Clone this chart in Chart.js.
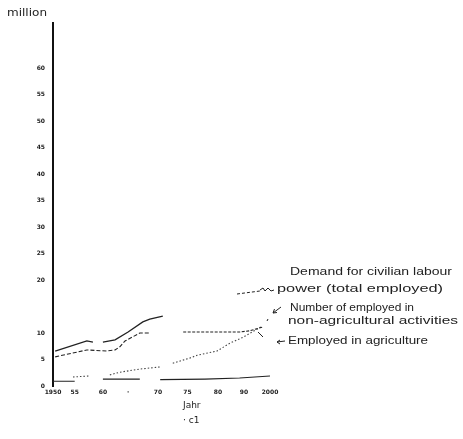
<!DOCTYPE html>
<html>
<head>
<meta charset="utf-8">
<script src="https://cdn.jsdelivr.net/npm/chart.js@4"></script>
<style>
  html, body { margin: 0; padding: 0; background: #fff; }
</style>
</head>
<body>
<canvas id="myChart" width="463" height="439"></canvas>
<script>
// values (million persons by year), null = pen lifted
const totalYears = [1950.5, 1957.8, 1959.2, 1960, 1961.5, 1964.3, 1967.3, 1970.7, 1972.3, 1975.3];
const totalValues = [6.6, 8.5, 8.3, null, 8.3, 8.7, 10.2, 12.1, 12.6, 13.2];

const nonAgriYears = [1950.5, 1957.8, 1962.4, 1964.3, 1965.4, 1966.6, 1968.2, 1970, 1972.3];
const nonAgriValues = [5.5, 6.8, 6.6, 6.8, 7.4, 8.5, 9.2, 10.0, 10.0];

const nonAgriLateYears = [1980, 1993.1, 1995.2, 1998.2];
const nonAgriLateValues = [10.2, 10.2, 10.4, 11.1];

const agriYears = [1954.6, 1958.5, 1959, 1963.1, 1965.4, 1970, 1974.7, 1975.5, 1977.6, 1981.6, 1983.2, 1987.8, 1990.8, 1993.8, 1998.2];
const agriValues = [1.7, 1.9, null, 2.1, 2.6, 3.2, 3.6, null, 4.3, 5.3, 5.8, 6.6, 8.1, 9.2, 11.3];

const baseYears = [1950, 1955, 1955.5, 1961.5, 1970, 1970.5, 1974.7, 1985, 1993, 2000];
const baseValues = [0.9, 0.9, null, 1.3, 1.3, null, 1.2, 1.3, 1.5, 1.9];

// tick labels as scribbled on the axes
const xTickValues = [1950, 1955, 1961.5, 1967.3, 1974.2, 1981, 1988, 1994, 2000];
const xTickLabels = ['1950', '55', '60', '\u00b7', '70', '75', '80', '90', '2000'];
const yTickValues = [0, 5, 10, 15, 20, 25, 30, 35, 40, 45, 50, 55, 60];
const yTickLabels = ['0', '5', '10', '', '20', '25', '30', '35', '40', '45', '50', '55', '60'];

const toPoints = (xs, ys) => xs.map((x, i) => ({ x: x, y: ys[i] }));

const ink = '#222';

// handwriting is wide and low, so squeeze/stretch each note to its width
function note(ctx, text, x, y, w) {
  const m = ctx.measureText(text).width;
  ctx.save();
  ctx.translate(x, y);
  ctx.scale(w / m, 1);
  ctx.fillText(text, 0, 0);
  ctx.restore();
}

const notes = {
  id: 'notes',
  afterDraw(chart) {
    const ctx = chart.ctx;
    ctx.save();
    ctx.fillStyle = ink;
    ctx.strokeStyle = ink;
    ctx.textBaseline = 'middle';

    ctx.font = '10px "DejaVu Sans"';
    note(ctx, 'million', 7, 13, 40);

    ctx.font = '11px "Liberation Sans"';
    note(ctx, 'Demand for civilian labour', 290, 272, 162);
    note(ctx, 'power (total employed)', 277, 289, 166);
    ctx.font = '10px "Liberation Sans"';
    note(ctx, 'Number of employed in', 290, 308, 124);
    ctx.font = '11px "Liberation Sans"';
    note(ctx, 'non-agricultural activities', 288, 321, 170);
    note(ctx, 'Employed in agriculture', 288, 341, 140);

    ctx.font = '9px "DejaVu Sans"';
    ctx.fillText('Jahr', 183, 406);
    ctx.fillText('\u00b7 c1', 183, 421);

    // legend stroke beside "power"
    ctx.lineWidth = 1;
    ctx.setLineDash([3, 2]);
    ctx.beginPath();
    ctx.moveTo(237, 294);
    ctx.lineTo(260, 291);
    ctx.stroke();
    ctx.setLineDash([]);
    ctx.beginPath();
    ctx.moveTo(260, 290);
    ctx.lineTo(263, 288);
    ctx.lineTo(265, 291);
    ctx.lineTo(268, 288);
    ctx.lineTo(271, 291);
    ctx.lineTo(274, 290);
    ctx.stroke();

    // arrows
    ctx.beginPath();
    ctx.moveTo(281, 307);
    ctx.lineTo(273, 313);
    ctx.lineTo(277, 312.5);
    ctx.moveTo(273, 313);
    ctx.lineTo(274.5, 309);
    ctx.moveTo(268, 319);
    ctx.lineTo(267, 321);
    ctx.moveTo(285, 341);
    ctx.lineTo(277, 342);
    ctx.lineTo(280, 340);
    ctx.moveTo(277, 342);
    ctx.lineTo(280, 344);
    ctx.moveTo(258, 332);
    ctx.lineTo(263, 337);
    ctx.stroke();
    ctx.restore();
  }
};

const chartData = {
  datasets: [
    {
      label: 'Demand for civilian labour power (total employed)',
      data: toPoints(totalYears, totalValues),
      borderColor: ink,
      borderWidth: 1.3
    },
    {
      label: 'Number of employed in non-agricultural activities',
      data: toPoints(nonAgriYears, nonAgriValues),
      borderColor: ink,
      borderWidth: 1.1,
      borderDash: [4, 2]
    },
    {
      label: 'Number of employed in non-agricultural activities (later)',
      data: toPoints(nonAgriLateYears, nonAgriLateValues),
      borderColor: ink,
      borderWidth: 1.1,
      borderDash: [3, 1.5]
    },
    {
      label: 'Employed in agriculture',
      data: toPoints(agriYears, agriValues),
      borderColor: '#444',
      borderWidth: 1.1,
      borderDash: [1.5, 2]
    },
    {
      label: 'base',
      data: toPoints(baseYears, baseValues),
      borderColor: ink,
      borderWidth: 1.1
    }
  ]
};

const config = {
  type: 'line',
  data: chartData,
  options: {
    responsive: false,
    animation: false,
    spanGaps: false,
    layout: { padding: { left: 0, top: 23, right: 193, bottom: 0 } },
    elements: { point: { radius: 0 }, line: { tension: 0 } },
    plugins: { legend: { display: false }, tooltip: { enabled: false } },
    scales: {
      x: {
        type: 'linear',
        min: 1950,
        max: 2000,
        grid: { display: false, drawTicks: false },
        border: { display: false },
        afterBuildTicks: s => { s.ticks = xTickValues.map(v => ({ value: v })); },
        afterFit: s => { s.height = 53; },
        ticks: {
          autoSkip: false,
          maxRotation: 0,
          padding: 3,
          color: ink,
          font: { size: 6, weight: 'bold', family: 'DejaVu Sans' },
          callback: (v, i) => xTickLabels[i]
        }
      },
      y: {
        min: 0,
        max: 68.5,
        grid: { display: false, drawTicks: false },
        border: { color: '#111', width: 2 },
        afterBuildTicks: s => { s.ticks = yTickValues.map(v => ({ value: v })); },
        afterFit: s => { s.width = 53; },
        ticks: {
          padding: 8,
          color: ink,
          font: { size: 6, weight: 'bold', family: 'DejaVu Sans' },
          callback: (v, i) => yTickLabels[i]
        }
      }
    }
  },
  plugins: [notes]
};

const myChart = new Chart(document.getElementById('myChart'), config);
</script>
</body>
</html>
